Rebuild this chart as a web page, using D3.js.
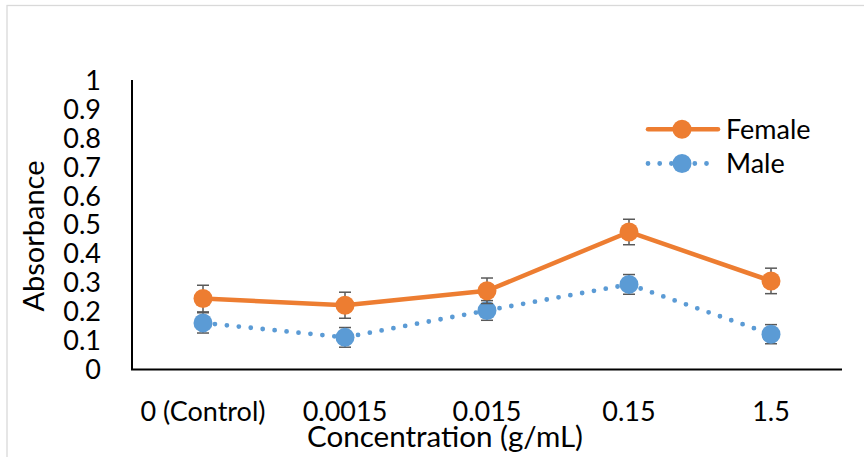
<!DOCTYPE html>
<html>
<head>
<meta charset="utf-8">
<script src="https://cdn.jsdelivr.net/npm/d3@7"></script>
<style>
  body { margin: 0; background: #fff; }
  text { font-family: Lato, "Open Sans", sans-serif; fill: #000; }
</style>
</head>
<body>
<div id="chart"></div>
<script>
// data
var categories = ["0 (Control)", "0.0015", "0.015", "0.15", "1.5"];
var female = [0.245, 0.222, 0.272, 0.475, 0.306];
var female_err = [0.046, 0.045, 0.044, 0.044, 0.044];
var male = [0.161, 0.111, 0.204, 0.294, 0.122];
var male_err = [0.035, 0.034, 0.034, 0.034, 0.033];
var y_ticks = [0, 0.1, 0.2, 0.3, 0.4, 0.5, 0.6, 0.7, 0.8, 0.9, 1];

var width = 864, height = 457;
var plot = {left: 132, right: 842, top: 80, bottom: 369.5};

var svg = d3.select("#chart").append("svg")
    .attr("width", width)
    .attr("height", height);

// chart area frame
svg.append("rect")
    .attr("x", 7).attr("y", 5.5)
    .attr("width", width + 20).attr("height", height + 20)
    .attr("fill", "#fff")
    .attr("stroke", "#d9d9d9")
    .attr("stroke-width", 1.3);

var x = d3.scaleBand().domain(categories).range([plot.left, plot.right]);
var y = d3.scaleLinear().domain([0, 1]).range([plot.bottom, plot.top]);
function cx(d, i) { return x(categories[i]) + x.bandwidth() / 2; }

// axes
svg.append("line")
    .attr("x1", plot.left).attr("x2", plot.left)
    .attr("y1", y(1)).attr("y2", y(0))
    .attr("stroke", "#000").attr("stroke-width", 2);
svg.append("line")
    .attr("x1", plot.left - 1).attr("x2", plot.right)
    .attr("y1", y(0)).attr("y2", y(0))
    .attr("stroke", "#000").attr("stroke-width", 2);

svg.selectAll(".ytick").data(y_ticks).enter().append("text")
    .attr("class", "ytick")
    .attr("x", 101)
    .attr("y", function(d) { return y(d); })
    .attr("dy", "0.36em")
    .attr("text-anchor", "end")
    .style("font-size", "27px")
    .text(function(d) { return d3.format("")(d); });

svg.selectAll(".xtick").data(categories).enter().append("text")
    .attr("class", "xtick")
    .attr("x", function(d) { return x(d) + x.bandwidth() / 2; })
    .attr("y", 421)
    .attr("text-anchor", "middle")
    .style("font-size", "27px")
    .text(function(d) { return d; });

// axis titles
svg.append("text")
    .attr("x", 445).attr("y", 447)
    .attr("text-anchor", "middle")
    .attr("textLength", 276)
    .attr("lengthAdjust", "spacingAndGlyphs")
    .style("font-size", "28px")
    .text("Concentration (g/mL)");
svg.append("text")
    .attr("transform", "translate(44,236) rotate(-90)")
    .attr("text-anchor", "middle")
    .attr("textLength", 151)
    .attr("lengthAdjust", "spacingAndGlyphs")
    .style("font-size", "28px")
    .text("Absorbance");

var line = d3.line().x(cx).y(function(d) { return y(d); });

function draw_series(values, errs, colour, dotted) {
    var path = svg.append("path")
        .datum(values)
        .attr("d", line)
        .attr("fill", "none")
        .attr("stroke", colour)
        .attr("stroke-linejoin", "round");
    if (dotted) {
        path.attr("stroke-width", 4.8)
            .attr("stroke-linecap", "round")
            .attr("stroke-dasharray", "0 12");
    } else {
        path.attr("stroke-width", 4.5);
    }

    // error bars
    var eb = svg.append("g");
    values.forEach(function(v, i) {
        var px = cx(v, i);
        eb.append("line")
            .attr("x1", px).attr("x2", px)
            .attr("y1", y(v + errs[i])).attr("y2", y(v - errs[i]))
            .attr("stroke", "#595959").attr("stroke-width", 1.5);
        [v + errs[i], v - errs[i]].forEach(function(e) {
            eb.append("line")
                .attr("x1", px - 6).attr("x2", px + 6)
                .attr("y1", y(e)).attr("y2", y(e))
                .attr("stroke", "#595959").attr("stroke-width", 1.5);
        });
    });

    svg.append("g").selectAll("circle").data(values).enter().append("circle")
        .attr("cx", cx)
        .attr("cy", function(d) { return y(d); })
        .attr("r", 9.5)
        .attr("fill", colour);
}

draw_series(male, male_err, "#5b9bd5", true);
draw_series(female, female_err, "#ed7d31", false);

// legend
var legend = [
    {name: "Female", colour: "#ed7d31", dotted: false, y: 129.3},
    {name: "Male", colour: "#5b9bd5", dotted: true, y: 163.5}
];
legend.forEach(function(l) {
    var seg = svg.append("line")
        .attr("x1", 648).attr("x2", 718)
        .attr("y1", l.y).attr("y2", l.y)
        .attr("stroke", l.colour)
        .attr("stroke-linecap", "round");
    if (l.dotted) {
        seg.attr("stroke-width", 4.8).attr("stroke-dasharray", "0 11.7");
    } else {
        seg.attr("stroke-width", 4.5);
    }
    svg.append("circle")
        .attr("cx", 682).attr("cy", l.y).attr("r", 9.5)
        .attr("fill", l.colour);
    svg.append("text")
        .attr("x", 726).attr("y", l.y + 9.5)
        .style("font-size", "27px")
        .text(l.name);
});
</script>
</body>
</html>
